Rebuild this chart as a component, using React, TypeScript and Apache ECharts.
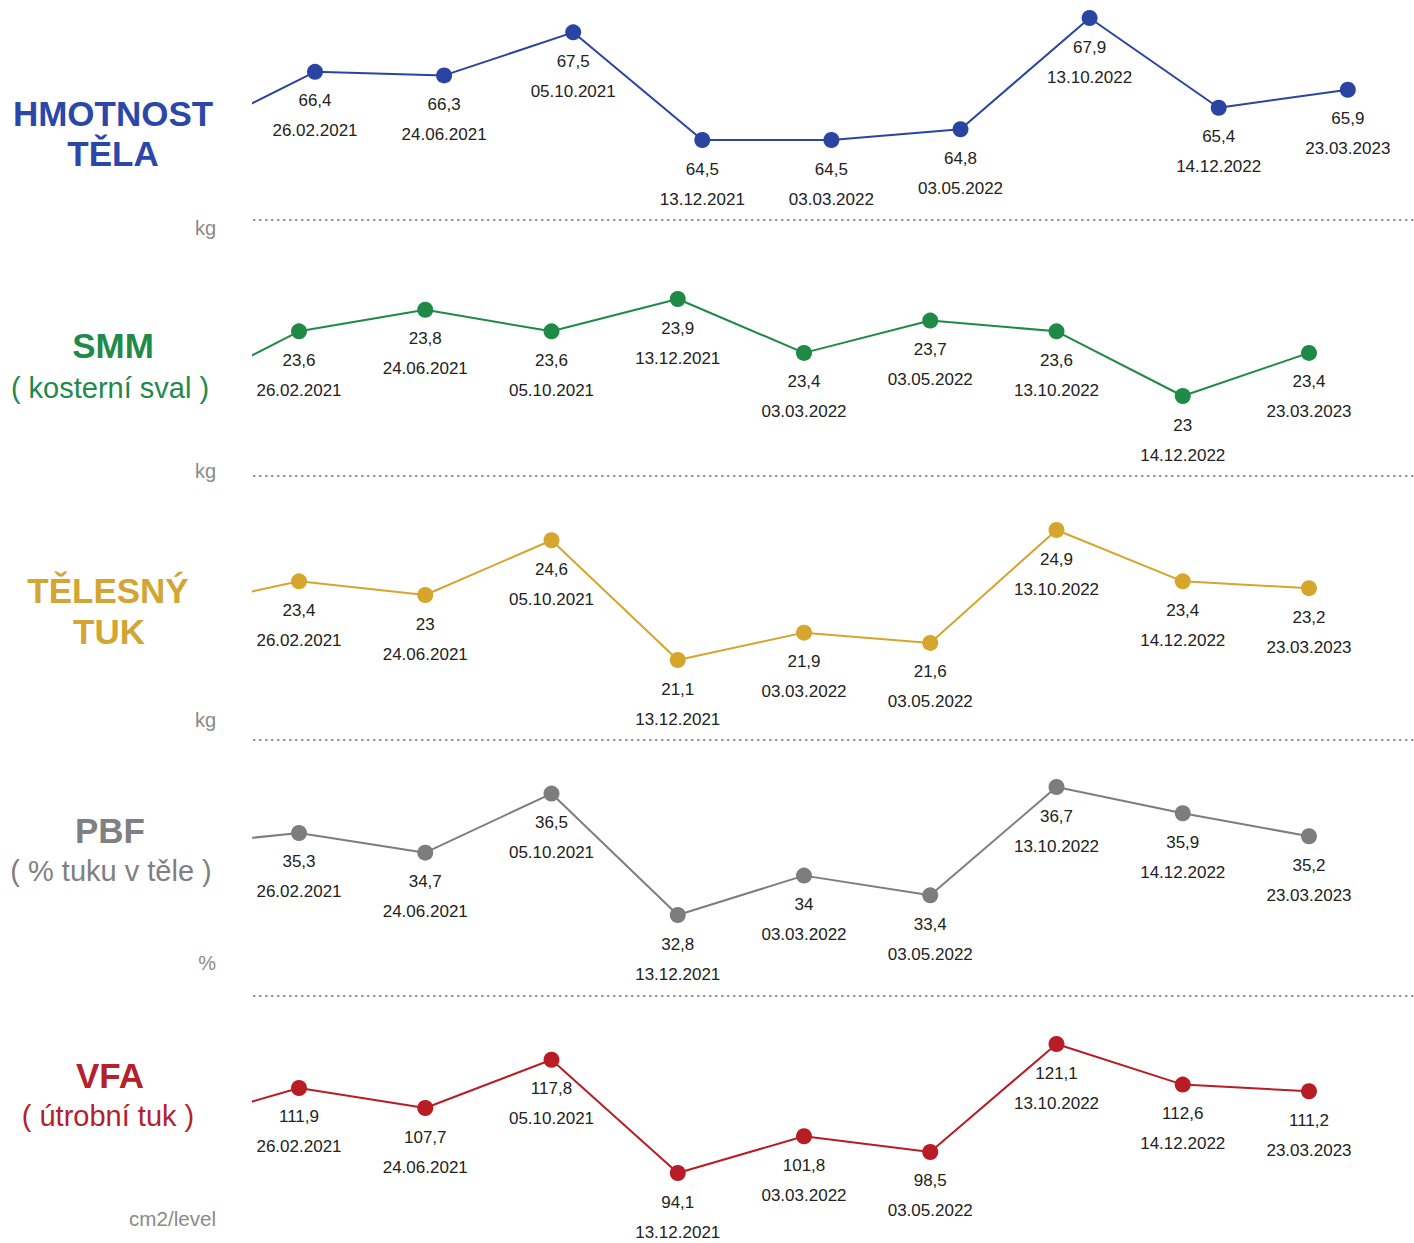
import React, { useEffect, useRef } from "react";
import * as echarts from "echarts";

// Measurement dates (same for every panel)
const dates = [
  "26.02.2021",
  "24.06.2021",
  "05.10.2021",
  "13.12.2021",
  "03.03.2022",
  "03.05.2022",
  "13.10.2022",
  "14.12.2022",
  "23.03.2023",
];

// Body weight (kg); the "prev" value is the earlier measurement whose line enters from the left edge
const weightPrev = 64.6;
const weight = [66.4, 66.3, 67.5, 64.5, 64.5, 64.8, 67.9, 65.4, 65.9];

// Skeletal muscle mass (kg)
const smmPrev = 23.0;
const smm = [23.6, 23.8, 23.6, 23.9, 23.4, 23.7, 23.6, 23.0, 23.4];

// Body fat mass (kg)
const fatPrev = 22.6;
const fat = [23.4, 23.0, 24.6, 21.1, 21.9, 21.6, 24.9, 23.4, 23.2];

// Percent body fat (%)
const pbfPrev = 34.9;
const pbf = [35.3, 34.7, 36.5, 32.8, 34.0, 33.4, 36.7, 35.9, 35.2];

// Visceral fat area (cm2/level)
const vfaPrev = 104.2;
const vfa = [111.9, 107.7, 117.8, 94.1, 101.8, 98.5, 121.1, 112.6, 111.2];

const FONT = "'Liberation Sans', Arial, Helvetica, sans-serif";

type Panel = {
  prev: number;
  values: number[];
  color: string;
  // horizontal placement: pixel of first point and spacing between points
  x0: number;
  dx: number;
  // vertical calibration: two value/pixel pairs
  vA: number;
  pA: number;
  vB: number;
  pB: number;
  top: number;
  bottom: number;
};

const panels: Panel[] = [
  { prev: weightPrev, values: weight, color: "#2a44a2", x0: 315, dx: 129.1, vA: 64.5, pA: 140, vB: 67.9, pB: 18, top: 2, bottom: 160 },
  { prev: smmPrev, values: smm, color: "#1f8a45", x0: 299, dx: 126.25, vA: 23.0, pA: 396, vB: 23.9, pB: 299, top: 282, bottom: 412 },
  { prev: fatPrev, values: fat, color: "#d6a52c", x0: 299, dx: 126.25, vA: 21.1, pA: 660, vB: 24.9, pB: 530, top: 514, bottom: 676 },
  { prev: pbfPrev, values: pbf, color: "#7d7d7d", x0: 299, dx: 126.25, vA: 32.8, pA: 915, vB: 36.7, pB: 787, top: 770, bottom: 932 },
  { prev: vfaPrev, values: vfa, color: "#b81c25", x0: 299, dx: 126.25, vA: 94.1, pA: 1173, vB: 121.1, pB: 1044, top: 1027, bottom: 1190 },
];

const titles = [
  { lines: [{ t: "HMOTNOST", x: 113, y: 113, bold: true }, { t: "TĚLA", x: 113, y: 153, bold: true }], color: "#2b47a8", unit: "kg", unitY: 228, unitSize: 20 },
  { lines: [{ t: "SMM", x: 113, y: 345, bold: true }, { t: "( kosterní sval )", x: 110, y: 388, bold: false }], color: "#22894a", unit: "kg", unitY: 471, unitSize: 20 },
  { lines: [{ t: "TĚLESNÝ", x: 108, y: 590, bold: true }, { t: "TUK", x: 109, y: 631, bold: true }], color: "#d3a533", unit: "kg", unitY: 720, unitSize: 20 },
  { lines: [{ t: "PBF", x: 110, y: 830, bold: true }, { t: "( % tuku v těle )", x: 111, y: 871, bold: false }], color: "#808080", unit: "%", unitY: 963, unitSize: 20 },
  { lines: [{ t: "VFA", x: 110, y: 1075, bold: true }, { t: "( útrobní tuk )", x: 108, y: 1116, bold: false }], color: "#b3212b", unit: "cm2/level", unitY: 1218, unitSize: 20.6 },
];

const separatorsY = [220, 476, 740, 996];

const GRID_LEFT = 253;
const GRID_RIGHT_PX = 1400;

function fmt(v: number): string {
  return String(v).replace(".", ",");
}

export default function App() {
  const ref = useRef<HTMLDivElement>(null);

  useEffect(() => {
    document.body.style.margin = "0";
    if (!ref.current) return;
    const chart = echarts.init(ref.current, undefined, { renderer: "svg" });

    const grids: any[] = [];
    const xAxes: any[] = [];
    const yAxes: any[] = [];
    const series: any[] = [];

    panels.forEach((p, i) => {
      const k = (p.pA - p.pB) / (p.vB - p.vA);
      const yMax = p.vA + (p.pA - p.top) / k;
      const yMin = p.vA - (p.bottom - p.pA) / k;
      const xMin = (GRID_LEFT - p.x0) / p.dx;
      const xMax = (GRID_RIGHT_PX - p.x0) / p.dx;

      grids.push({
        left: GRID_LEFT,
        top: p.top,
        width: GRID_RIGHT_PX - GRID_LEFT,
        height: p.bottom - p.top,
        containLabel: false,
      });
      xAxes.push({ type: "value", gridIndex: i, min: xMin, max: xMax, show: false });
      yAxes.push({ type: "value", gridIndex: i, min: yMin, max: yMax, show: false, scale: true });

      const data: any[] = [
        { value: [-1, p.prev], symbolSize: 0, label: { show: false } },
        ...p.values.map((v, j) => ({ value: [j, v] })),
      ];

      series.push({
        type: "line",
        xAxisIndex: i,
        yAxisIndex: i,
        data,
        clip: true,
        symbol: "circle",
        symbolSize: 16,
        lineStyle: { color: p.color, width: 2 },
        itemStyle: { color: p.color },
        label: {
          show: true,
          position: "bottom",
          distance: 6,
          formatter: (prm: any) => `{v|${fmt(prm.value[1])}}\n{d|${dates[prm.value[0]]}}`,
          rich: {
            v: { fontSize: 17, lineHeight: 30, color: "#222", fontFamily: FONT, align: "center" },
            d: { fontSize: 17, lineHeight: 30, color: "#222", fontFamily: FONT, align: "center" },
          },
        },
      });
    });

    const graphics: any[] = [];
    titles.forEach((t) => {
      t.lines.forEach((ln) => {
        graphics.push({
          type: "text",
          x: ln.x,
          y: ln.y,
          style: {
            text: ln.t,
            fill: t.color,
            font: `${ln.bold ? "bold 35px" : "29px"} ${FONT}`,
            align: "center",
            verticalAlign: "middle",
          },
        });
      });
      graphics.push({
        type: "text",
        x: 216,
        y: t.unitY,
        style: {
          text: t.unit,
          fill: "#8a8a8a",
          font: `${t.unitSize}px ${FONT}`,
          align: "right",
          verticalAlign: "middle",
        },
      });
    });
    separatorsY.forEach((y) => {
      graphics.push({
        type: "line",
        shape: { x1: GRID_LEFT, y1: y, x2: 1414, y2: y },
        style: { stroke: "#999999", lineWidth: 2, lineDash: [2.5, 3.5] },
      });
    });

    chart.setOption({
      animation: false,
      backgroundColor: "#ffffff",
      grid: grids,
      xAxis: xAxes,
      yAxis: yAxes,
      series,
      graphic: graphics,
    });

    return () => chart.dispose();
  }, []);

  return <div ref={ref} style={{ width: 1414, height: 1243 }} />;
}
